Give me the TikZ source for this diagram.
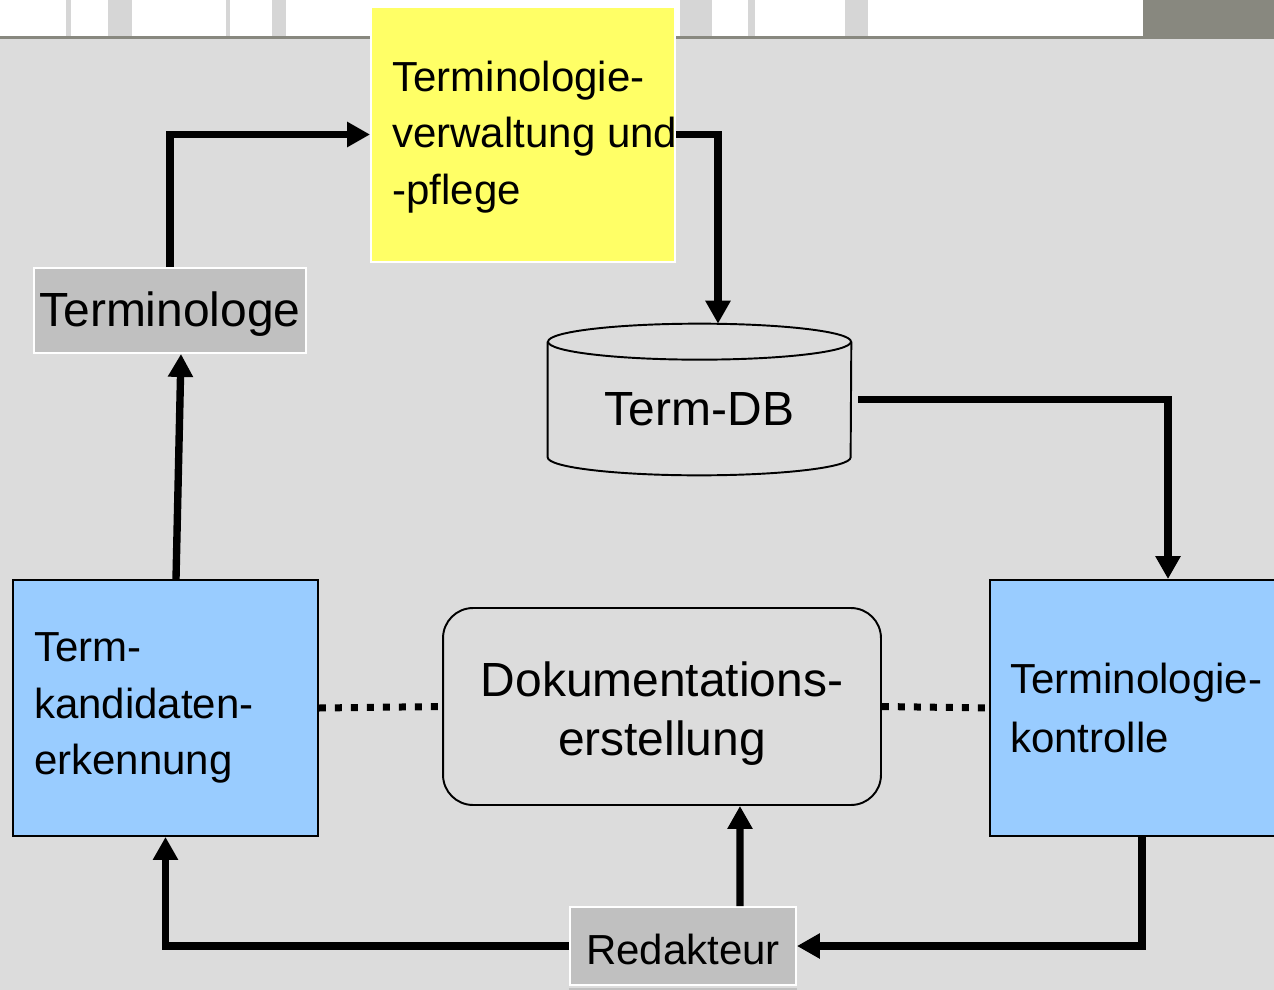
\documentclass[tikz,border=0pt]{standalone}
\usepackage{fontspec}
\setmainfont{Liberation Sans}
\usetikzlibrary{arrows.meta, positioning, calc}
\definecolor{bggray}{HTML}{DCDCDC}
\definecolor{notefill}{HTML}{FFFF66}
\definecolor{stepblue}{HTML}{99CCFF}
\definecolor{rolegray}{HTML}{C0C0C0}
\definecolor{stripgray}{HTML}{88887F}
\definecolor{stripband}{HTML}{D6D6D6}

\begin{document}
\begin{tikzpicture}[
    x=0.02cm, y=0.02cm,
    every node/.style={text=black},
    bigfont/.style={font=\fontsize{27.3pt}{34pt}\selectfont},
    normfont/.style={font=\fontsize{23.9pt}{32pt}\selectfont},
    rolebox/.style={
        draw=white, fill=rolegray,
        line width=1.1pt,
        inner sep=0pt
    },
    stepbox/.style={
        draw=black, fill=stepblue,
        line width=1.1pt,
        minimum height=5.12cm,
        inner ysep=0pt,
        align=left,
        normfont
    },
    conn/.style={
        -{Triangle[length=0.46cm, width=0.48cm]},
        line width=4.2pt,
        color=black
    },
    dotline/.style={
        line width=0.14cm,
        dash pattern=on 0.14cm off 0.18cm
    },
    dbline/.style={draw=black, line width=1.1pt}
]

% Background and scanned strip on top
\clip (0,0) rectangle (1274,-990);
\fill[bggray] (0,0) rectangle (1274,-990);
\fill[white] (0,0) rectangle (1143,-36);
\foreach \xa/\xb in {66/71, 108/132, 226/230, 272/286, 680/712, 748/755, 845/868}
    \fill[stripband] (\xa,0) rectangle (\xb,-36);
\fill[stripgray] (1143,0) rectangle (1274,-36);
\fill[stripgray] (0,-36) rectangle (1274,-39);

% Nodes
\node[rolebox, fill=notefill, minimum width=6.08cm, minimum height=5.1cm] (pflege) at (523,-134.5) {};
\node[normfont, anchor=west, align=left, inner sep=0pt] (pflegetext) at (392,-137)
    {Terminologie-\\verwaltung und\\-pflege};

\node[rolebox, minimum width=5.44cm, minimum height=1.7cm] (terminologe) at (170,-310.5) {};
\node[bigfont, inner sep=0pt] (terminologetext) at (170,-314) {Terminologe};

\node[minimum width=6.06cm, minimum height=3.02cm, inner sep=0pt] (termdb) at (699.5,-399.5) {};
\draw[dbline] ([yshift=-0.36cm]termdb.north) ellipse [x radius=3.03cm, y radius=0.36cm];
\draw[dbline] ([yshift=-0.36cm]termdb.north west) -- ([yshift=0.36cm]termdb.south west)
    arc[start angle=180, end angle=360, x radius=3.03cm, y radius=0.36cm]
    -- ([yshift=-0.36cm]termdb.north east);
\node[bigfont, inner sep=0pt] (termdbtext) at ([yshift=-0.2cm]termdb.center) {Term-DB};

\node[stepbox, minimum width=6.1cm, text width=5.26cm, inner xsep=0.42cm] (kandidat) at (165.5,-708)
    {Term-\\kandidaten-\\erkennung};

\node[stepbox, minimum width=7.12cm, text width=6.32cm, inner xsep=0.4cm,
      font=\fontsize{23.9pt}{34pt}\selectfont] (kontrolle) at (1168,-708)
    {Terminologie-\\kontrolle};

\node[draw=black, line width=1.1pt, rounded corners=0.6cm,
      minimum width=8.76cm, minimum height=3.94cm] (doku) at (662,-706.5) {};
\node[bigfont, align=center, inner sep=0pt] (dokutext) at ([yshift=-0.14cm]doku.center)
    {Dokumentations-\\erstellung};

\node[rolebox, minimum width=4.52cm, minimum height=1.56cm] (redakteur) at (683,-946) {};
\node[normfont, inner sep=0pt] (redakteurtext) at ([yshift=-0.06cm]redakteur.center) {Redakteur};
\fill[rolegray] ([yshift=-0.04cm]redakteur.south west) rectangle ([yshift=-0.4cm]redakteur.south east);

% Arrows
\draw[conn] (terminologe.north) |- (pflege.west);
\draw[conn] (pflege.east) -| ([xshift=0.37cm]termdb.north);
\draw[conn] ([xshift=0.14cm]termdb.east) -| (kontrolle.north);
\draw[conn] ([xshift=-0.52cm]kontrolle.south) |- (redakteur.east);
\draw[conn] (redakteur.west) -| (kandidat.south);
\draw[conn] ([xshift=1.14cm]redakteur.north) -- ([xshift=1.56cm]doku.south);
\draw[conn] ([xshift=0.21cm]kandidat.north) -- ([xshift=0.22cm]terminologe.south);

% Dotted links
\draw[dotline] (kandidat.east) -- (doku.west);
\draw[dotline] (doku.east) -- (kontrolle.west);

\end{tikzpicture}
\end{document}
